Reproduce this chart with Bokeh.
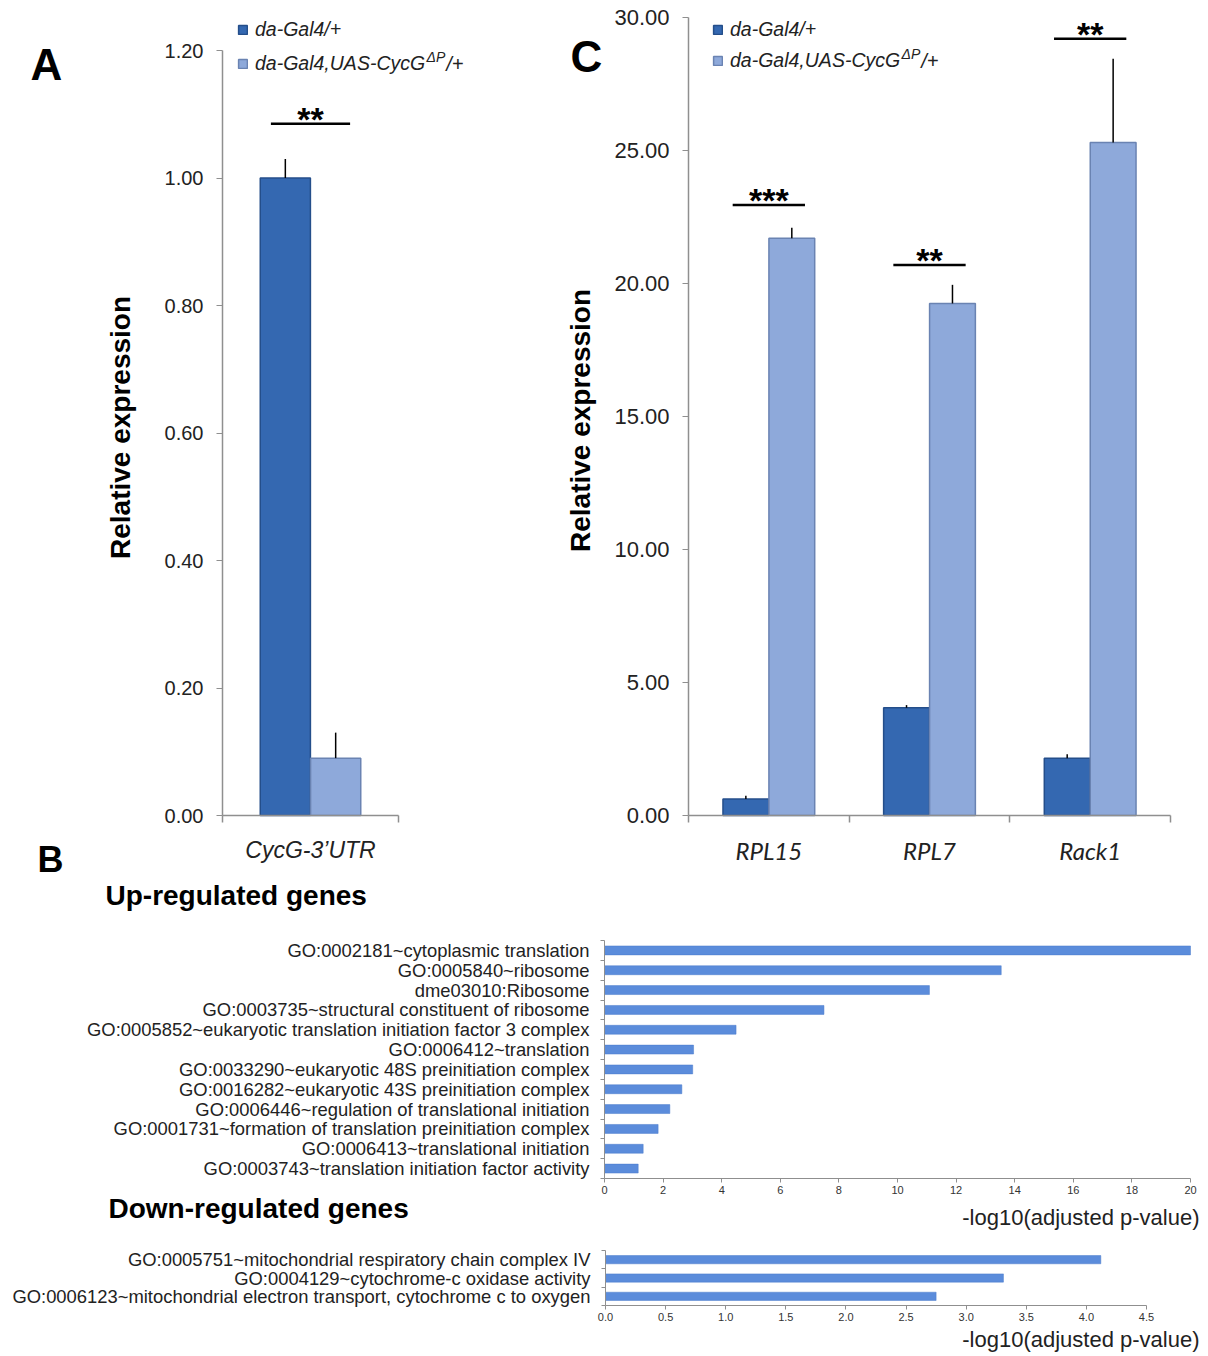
import math
from bokeh.plotting import figure
from bokeh.models import (Range1d, FixedTicker, NumeralTickFormatter, Label, Legend,
                          LegendItem, ColumnDataSource)
from bokeh.layouts import row, column
from bokeh.embed import file_html
from bokeh.resources import INLINE

# ---------------- data ----------------
group_labels = ["da-Gal4/+", "da-Gal4,UAS-CycG"]   # second continues with superscript "ΔP" and "/+"
group_sup = "ΔP"
group_tail = "/+"

a_genes = ["CycG-3’UTR"]
a_ctrl = [1.00]
a_ctrl_err = [0.03]
a_oe = [0.09]
a_oe_err = [0.04]
a_sig = ["**"]
a_sig_y = [1.085]
a_ticks = [0.0, 0.2, 0.4, 0.6, 0.8, 1.0, 1.2]

c_genes = ["RPL15", "RPL7", "Rack1"]
c_ctrl = [0.62, 4.05, 2.15]
c_ctrl_err = [0.12, 0.10, 0.15]
c_oe = [21.70, 19.25, 25.30]
c_oe_err = [0.40, 0.70, 3.15]
c_sig = ["***", "**", "**"]
c_sig_y = [22.95, 20.70, 29.20]
c_ticks = [0, 5, 10, 15, 20, 25, 30]

up_terms = [
    "GO:0002181~cytoplasmic translation",
    "GO:0005840~ribosome",
    "dme03010:Ribosome",
    "GO:0003735~structural constituent of ribosome",
    "GO:0005852~eukaryotic translation initiation factor 3 complex",
    "GO:0006412~translation",
    "GO:0033290~eukaryotic 48S preinitiation complex",
    "GO:0016282~eukaryotic 43S preinitiation complex",
    "GO:0006446~regulation of translational initiation",
    "GO:0001731~formation of translation preinitiation complex",
    "GO:0006413~translational initiation",
    "GO:0003743~translation initiation factor activity",
]
up_vals = [20.0, 13.54, 11.09, 7.49, 4.49, 3.04, 3.01, 2.64, 2.23, 1.83, 1.32, 1.15]
up_ticks = [0, 2, 4, 6, 8, 10, 12, 14, 16, 18, 20]

down_terms = [
    "GO:0005751~mitochondrial respiratory chain complex IV",
    "GO:0004129~cytochrome-c oxidase activity",
    "GO:0006123~mitochondrial electron transport, cytochrome c to oxygen",
]
down_vals = [4.12, 3.31, 2.75]
down_ticks = [0.0, 0.5, 1.0, 1.5, 2.0, 2.5, 3.0, 3.5, 4.0, 4.5]

xlabel_b = "-log10(adjusted p-value)"
ylabel = "Relative expression"
panel_letters = ["A", "B", "C"]
section_titles = ["Up-regulated genes", "Down-regulated genes"]

# ---------------- style ----------------
DARK = "#3468B1"
DARK_EDGE = "#244E8A"
LIGHT = "#8EA9DA"
LIGHT_EDGE = "#6A83B2"
BBAR = "#5B8CDB"
AXIS = "#8f8f8f"
TXT = "#222222"
FONT = "Liberation Sans"
OFF = 0.143
BW = 0.285
SIG_HALF = 0.225
LEG_SIZE = 19.5

ARIAL_W = {'d': .556, 'a': .556, '-': .333, 'G': .778, 'l': .222, '4': .556, ',': .278,
           'U': .722, 'A': .667, 'S': .667, 'C': .722, 'y': .5, 'c': .5, '/': .278, '+': .584,
           'Δ': .668, 'P': .667}


def text_w(s, size):
    return sum(ARIAL_W.get(ch, .556) for ch in s) * size


class Canvas:
    """A figure whose frame fills the whole canvas; data ranges are set so that
    given data values land at given page pixels, and axes are fixed inside."""

    def __init__(self, L, T, W, H, x0, x1, X0, X1, y0, y1, Y0, Y1):
        self.L, self.T, self.W, self.H = L, T, W, H
        kx = (X1 - X0) / (x1 - x0)
        ky = (Y0 - Y1) / (y1 - y0)
        xr = Range1d(x0 + (L - X0) / kx, x0 + (L + W - X0) / kx)
        yr = Range1d(y0 - (T + H - Y0) / ky, y0 + (Y0 - T) / ky)
        p = figure(width=W, height=H, x_range=xr, y_range=yr,
                   output_backend="svg", toolbar_location=None,
                   min_border=0, min_border_left=0, min_border_right=0,
                   min_border_top=0, min_border_bottom=0)
        p.outline_line_color = None
        p.grid.visible = False
        p.background_fill_color = "white"
        p.border_fill_color = "white"
        p.xaxis.fixed_location = y0
        p.yaxis.fixed_location = x0
        p.xaxis.bounds = (x0, x1)
        p.yaxis.bounds = (y0, y1)
        self.p = p

    def sx(self, X):
        return X - self.L

    def sy(self, Y):
        return self.T + self.H - Y

    def label(self, text, X, Y, size, style="normal", align="left", baseline="middle",
              color="black", font=FONT, angle=0.0):
        self.p.add_layout(Label(x=self.sx(X), y=self.sy(Y), x_units="screen", y_units="screen",
                                text=text, text_font=font, text_font_size=size,
                                text_font_style=style, text_align=align,
                                text_baseline=baseline, text_color=color, angle=angle))


def bar_panel(cv, genes, ctrl, ctrl_err, oe, oe_err, sig, sig_y, yticks, ytick_size,
              cat_font, cat_size, cat_standoff, leg_X, leg_Y1, leg_Y2, title_XY):
    p = cv.p
    n = len(genes)
    centers = [i + 0.5 for i in range(n)]
    s1 = ColumnDataSource(dict(x=[c - OFF for c in centers], top=ctrl,
                               et=[v + e for v, e in zip(ctrl, ctrl_err)]))
    s2 = ColumnDataSource(dict(x=[c + OFF for c in centers], top=oe,
                               et=[v + e for v, e in zip(oe, oe_err)]))
    r1 = p.vbar(x="x", top="top", bottom=0, width=BW, source=s1,
                fill_color=DARK, line_color=DARK_EDGE, line_width=1.5)
    r2 = p.vbar(x="x", top="top", bottom=0, width=BW, source=s2,
                fill_color=LIGHT, line_color=LIGHT_EDGE, line_width=1.5)
    p.segment(x0="x", y0="top", x1="x", y1="et", source=s1, line_color="black", line_width=1.5)
    p.segment(x0="x", y0="top", x1="x", y1="et", source=s2, line_color="black", line_width=1.5)
    ss = ColumnDataSource(dict(x0=[c - SIG_HALF for c in centers],
                               x1=[c + SIG_HALF for c in centers], y=sig_y))
    p.segment(x0="x0", y0="y", x1="x1", y1="y", source=ss, line_color="black", line_width=2.5)
    for c, t, y in zip(centers, sig, sig_y):
        p.add_layout(Label(x=c, y=y, text=t, text_font=FONT, text_font_size="34px",
                           text_font_style="bold", text_align="center", text_color="black",
                           text_baseline="alphabetic", y_offset=5))

    ya = p.yaxis[0]
    ya.ticker = FixedTicker(ticks=yticks, minor_ticks=[])
    ya.formatter = NumeralTickFormatter(format="0.00")
    ya.major_label_text_font = FONT
    ya.major_label_text_font_size = ytick_size
    ya.major_label_text_color = TXT
    ya.axis_line_color = AXIS
    ya.axis_line_width = 1.5
    ya.major_tick_line_color = AXIS
    ya.major_tick_out = 6
    ya.major_tick_in = 0
    ya.major_label_standoff = 13

    xa = p.xaxis[0]
    xa.ticker = FixedTicker(ticks=centers, minor_ticks=list(range(n + 1)))
    xa.major_label_overrides = {c: g for c, g in zip(centers, genes)}
    xa.major_tick_line_color = None
    xa.major_tick_out = 0
    xa.major_tick_in = 0
    xa.minor_tick_line_color = AXIS
    xa.minor_tick_line_width = 1.5
    xa.minor_tick_out = 7
    xa.minor_tick_in = 0
    xa.axis_line_color = AXIS
    xa.axis_line_width = 1.5
    xa.major_label_text_font = cat_font
    xa.major_label_text_font_style = "italic"
    xa.major_label_text_font_size = cat_size
    xa.major_label_text_color = TXT
    xa.major_label_standoff = cat_standoff

    cv.label(ylabel, title_XY[0], title_XY[1], "28px", style="bold", align="center",
             angle=math.pi / 2)

    item_h = 24
    spacing = (leg_Y2 - leg_Y1) - item_h
    leg = Legend(items=[LegendItem(label=group_labels[0], renderers=[r1]),
                        LegendItem(label=group_labels[1], renderers=[r2])],
                 location=(cv.sx(leg_X), cv.sy(leg_Y2 + item_h / 2)),
                 orientation="vertical", padding=0, margin=0,
                 spacing=spacing, glyph_width=11, glyph_height=11, label_standoff=7,
                 label_height=23, label_text_font=FONT, label_text_font_style="italic",
                 label_text_font_size=f"{LEG_SIZE}px", label_text_color=TXT,
                 background_fill_alpha=0, border_line_alpha=0)
    p.add_layout(leg, "center")
    tx = leg_X + 11 + 7 + text_w(group_labels[1], LEG_SIZE)
    cv.label(group_sup, tx + 1, leg_Y2 - 7, "14px", style="italic", color=TXT)
    cv.label(group_tail, tx + 2 + text_w(group_sup, 14), leg_Y2, "20px", style="italic", color=TXT)


# ---------------- panel A ----------------
cA = Canvas(0, 0, 560, 880, 0, 1, 222, 398, 0, 1.2, 815, 50)
bar_panel(cA, a_genes, a_ctrl, a_ctrl_err, a_oe, a_oe_err, a_sig, a_sig_y, a_ticks, "20px",
          FONT, "23px", 14, 237, 28, 63, (120, 427))
cA.label(panel_letters[0], 30, 64, "44px", style="bold")
cA.label(panel_letters[1], 37, 859, "36px", style="bold")

# ---------------- panel C ----------------
cC = Canvas(560, 0, 640, 880, 0, 3, 688, 1170, 0, 30, 815, 17)
bar_panel(cC, c_genes, c_ctrl, c_ctrl_err, c_oe, c_oe_err, c_sig, c_sig_y, c_ticks, "22px",
          "Lato", "24px", 13, 712, 28, 60, (580, 420))
cC.label(panel_letters[2], 570, 56, "44px", style="bold")


# ---------------- panel B ----------------
def hbar_panel(cv, terms, vals, ticks, fmt):
    p = cv.p
    n = len(terms)
    centers = [n - i - 0.5 for i in range(n)]
    src = ColumnDataSource(dict(y=centers, v=vals))
    p.hbar(y="y", left=0, right="v", height=0.45, source=src,
           fill_color=BBAR, line_color="#4A7BCB", line_width=0.5)
    ya = p.yaxis[0]
    ya.ticker = FixedTicker(ticks=centers, minor_ticks=list(range(n + 1)))
    ya.major_label_overrides = {c: t for c, t in zip(centers, terms)}
    ya.major_tick_line_color = None
    ya.major_tick_out = 0
    ya.major_tick_in = 0
    ya.minor_tick_line_color = AXIS
    ya.minor_tick_out = 4
    ya.minor_tick_in = 0
    ya.axis_line_color = AXIS
    ya.major_label_text_font = FONT
    ya.major_label_text_font_size = "18.4px"
    ya.major_label_text_color = TXT
    ya.major_label_standoff = 11
    xa = p.xaxis[0]
    xa.ticker = FixedTicker(ticks=ticks, minor_ticks=[])
    xa.formatter = NumeralTickFormatter(format=fmt)
    xa.axis_line_color = AXIS
    xa.major_tick_line_color = AXIS
    xa.major_tick_out = 4
    xa.major_tick_in = 0
    xa.major_label_text_font = FONT
    xa.major_label_text_font_size = "11px"
    xa.major_label_text_color = "#333333"
    xa.major_label_standoff = 3


cU = Canvas(0, 880, 1200, 350, 0, 20, 604, 1190, 0, len(up_terms), 1178, 940)
hbar_panel(cU, up_terms, up_vals, up_ticks, "0")
cU.label(section_titles[0], 105, 895, "28px", style="bold")
cU.label(section_titles[1], 108, 1208, "28px", style="bold")
cU.label(xlabel_b, 1199, 1217, "22px", align="right", color=TXT)

cD = Canvas(0, 1230, 1200, 122, 0, 4.5, 605, 1146, 0, len(down_terms), 1305, 1250)
hbar_panel(cD, down_terms, down_vals, down_ticks, "0.0")
cD.label(xlabel_b, 1199, 1339, "22px", align="right", color=TXT)

layout = column(row(cA.p, cC.p), cU.p, cD.p)
open("out.html", "w").write(file_html(layout, INLINE))
